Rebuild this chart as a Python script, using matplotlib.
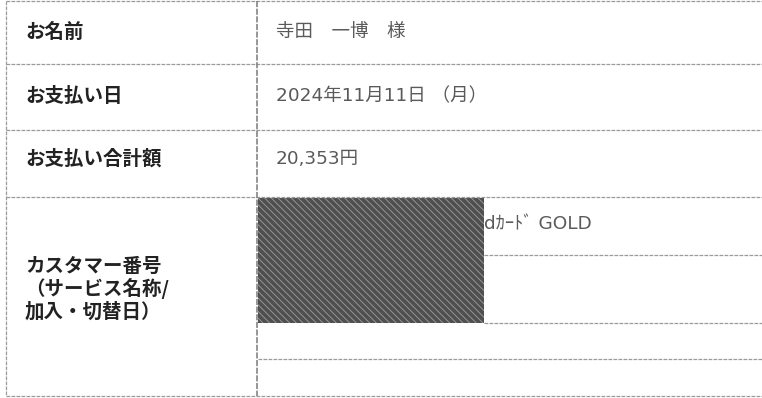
import matplotlib.pyplot as plt
from matplotlib.patches import Rectangle

plt.rcParams['font.family'] = ['Noto Sans CJK JP', 'DejaVu Sans']
plt.rcParams['hatch.linewidth'] = 0.7

# table content
labels = ['お名前', 'お支払い日', 'お支払い合計額', 'カスタマー番号\n（サービス名称/\n加入・切替日）']
values = ['寺田　一博　様', '2024年11月11日 （月）', '20,353円', 'dｶｰﾄﾞ GOLD']

# layout (pixels)
W, H = 762, 398
row_edges = [1, 64, 130, 197, 396]
text_y = [32, 96, 159, 289]
col_split = 257
left_edge = 6
mask = (258, 198, 484, 323)          # redacted block x0, y0, x1, y1
sub_lines = [(484, 255), (484, 323), (258, 359)]

fig = plt.figure(figsize=(W / 100, H / 100), dpi=100)
ax = fig.add_axes([0, 0, 1, 1])
ax.set_xlim(0, W)
ax.set_ylim(H, 0)
ax.axis('off')

line_kw = dict(color='#9a9a9a', lw=0.9, linestyle=(0, (3, 1)))
for y in row_edges:
    ax.plot([left_edge, W], [y, y], **line_kw)
ax.plot([left_edge, left_edge], [row_edges[0], row_edges[-1]], **line_kw)
ax.plot([col_split, col_split], [row_edges[0], row_edges[-1]], color='#7a7a7a', lw=1.1,
        linestyle=(0, (4, 1)))
for x0, y in sub_lines:
    ax.plot([x0, W], [y, y], **line_kw)

x0, y0, x1, y1 = mask
ax.add_patch(Rectangle((x0, y0), x1 - x0, y1 - y0, facecolor='#4f4f4f',
                       edgecolor='#959595', hatch='\\\\\\\\\\', lw=0))

for lab, yc in zip(labels, text_y):
    ax.text(25, yc, lab, fontsize=14, fontweight='bold', color='#222222',
            va='center', ha='left', linespacing=1.15)

value_font = ['DejaVu Sans', 'Noto Sans CJK JP']
for i, val in enumerate(values):
    if i < 3:
        ax.text(276, text_y[i], val, fontsize=13.3, color='#5a5a5a', va='center',
                ha='left', family=value_font)
    else:
        ax.text(484, 224, val, fontsize=13.3, color='#5a5a5a', va='center',
                ha='left', family=value_font)

fig.savefig('out.png', dpi=100)
